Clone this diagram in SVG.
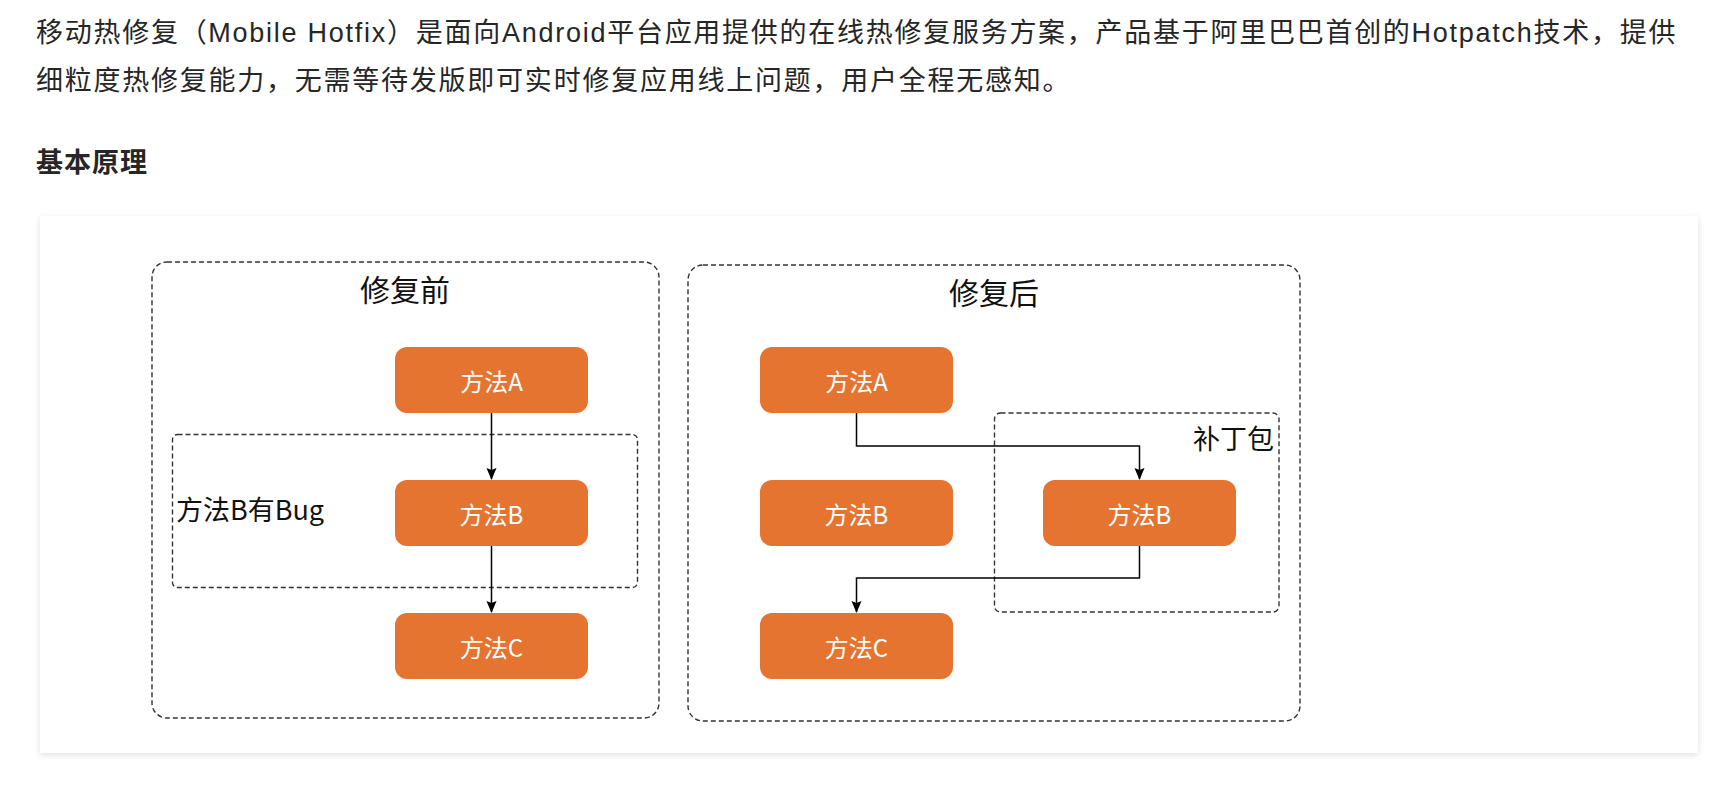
<svg xmlns="http://www.w3.org/2000/svg" width="1732" height="804" viewBox="0 0 1732 804">
<defs>
<style>
.body{font-family:"Liberation Sans","Noto Sans CJK SC",sans-serif;font-size:27px;fill:#262626;letter-spacing:1.5px}
.h{font-family:"Liberation Sans","Noto Sans CJK SC",sans-serif;font-size:27px;font-weight:bold;fill:#262626;letter-spacing:1px}
.dash{fill:none;stroke:#333;stroke-width:1.4;stroke-dasharray:5 3}
.box{fill:#E67431;stroke:none}
.bt{font-family:"Noto Sans CJK SC","Liberation Sans",sans-serif;font-size:24px;fill:#fff;text-anchor:middle;dominant-baseline:central}
.title{font-family:"Noto Sans CJK SC","Liberation Sans",sans-serif;font-size:30px;fill:#111;text-anchor:middle;dominant-baseline:central}
.lbl{font-family:"Noto Sans CJK SC","Liberation Sans",sans-serif;font-size:27px;fill:#111;dominant-baseline:central}
.edge{fill:none;stroke:#000;stroke-width:1.5}
</style>
<marker id="arr" markerUnits="userSpaceOnUse" markerWidth="12" markerHeight="12" viewBox="0 0 12 12" refX="11" refY="6" orient="auto">
<path d="M0,1 L12,6 L0,11 L2,6 z" fill="#000"/>
</marker>
<filter id="sh" x="-5%" y="-5%" width="110%" height="115%">
<feDropShadow dx="0" dy="2" stdDeviation="3" flood-color="#000" flood-opacity="0.12"/>
</filter>
</defs>
<rect width="1732" height="804" fill="#fff"/>
<text class="body" x="36" y="42" textLength="1641" lengthAdjust="spacing">移动热修复（Mobile Hotfix）是面向Android平台应用提供的在线热修复服务方案，产品基于阿里巴巴首创的Hotpatch技术，提供</text>
<text class="body" x="36" y="90" textLength="1035" lengthAdjust="spacing">细粒度热修复能力，无需等待发版即可实时修复应用线上问题，用户全程无感知。</text>
<text class="h" x="36" y="172">基本原理</text>
<rect x="40" y="216" width="1658" height="537" fill="#fff" filter="url(#sh)"/>

<g id="before">
<rect class="dash" x="152" y="262" width="507" height="456" rx="15"/>
<text class="title" x="405" y="288">修复前</text>
</g>
<g id="bug-area">
<rect class="dash" x="172.5" y="434.5" width="465" height="153" rx="5"/>
<text class="lbl" x="176" y="508">方法B有Bug</text>
</g>
<g id="before-a"><rect class="box" x="395" y="347" width="193" height="66" rx="12"/><text class="bt" x="491.5" y="380">方法A</text></g>
<g id="before-b"><rect class="box" x="395" y="480" width="193" height="66" rx="12"/><text class="bt" x="491.5" y="513">方法B</text></g>
<g id="before-c"><rect class="box" x="395" y="613" width="193" height="66" rx="12"/><text class="bt" x="491.5" y="646">方法C</text></g>

<g id="after">
<rect class="dash" x="688" y="265" width="612" height="456" rx="15"/>
<text class="title" x="994" y="291">修复后</text>
</g>
<g id="patch">
<rect class="dash" x="994.5" y="413" width="284.5" height="199" rx="6"/>
<text class="lbl" x="1193" y="437">补丁包</text>
</g>
<g id="after-a"><rect class="box" x="760" y="347" width="193" height="66" rx="12"/><text class="bt" x="856.5" y="380">方法A</text></g>
<g id="after-b"><rect class="box" x="760" y="480" width="193" height="66" rx="12"/><text class="bt" x="856.5" y="513">方法B</text></g>
<g id="patch-b"><rect class="box" x="1043" y="480" width="193" height="66" rx="12"/><text class="bt" x="1139.5" y="513">方法B</text></g>
<g id="after-c"><rect class="box" x="760" y="613" width="193" height="66" rx="12"/><text class="bt" x="856.5" y="646">方法C</text></g>

<g id="connectors">
<path class="edge" d="M491.5,413 L491.5,479" marker-end="url(#arr)"/>
<path class="edge" d="M491.5,546 L491.5,612" marker-end="url(#arr)"/>
<path class="edge" d="M856.5,413 L856.5,446 L1139.5,446 L1139.5,479" marker-end="url(#arr)"/>
<path class="edge" d="M1139.5,546 L1139.5,578 L856.5,578 L856.5,612" marker-end="url(#arr)"/>
</g>
</svg>
